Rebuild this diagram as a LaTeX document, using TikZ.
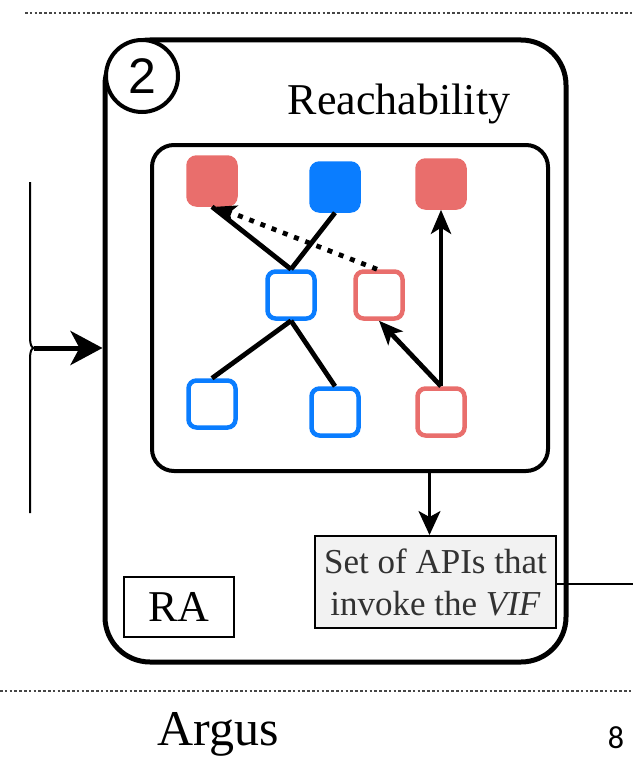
\documentclass[tikz,border=0pt]{standalone}
\usepackage{fontspec}
\setmainfont{Liberation Serif}
\newfontfamily\digitfont{Liberation Sans}
\newfontfamily\pagefont{Carlito}
\usetikzlibrary{arrows.meta}
\definecolor{nodered}{RGB}{233,110,108}
\definecolor{nodeblue}{RGB}{10,125,255}
\definecolor{boxgray}{RGB}{242,242,242}
\definecolor{textgray}{RGB}{50,50,50}
\definecolor{dotgray}{RGB}{70,70,70}

\begin{document}
\begin{tikzpicture}[x=1pt,y=-1pt,
  sq/.style={minimum size=47pt, rounded corners=8pt, inner sep=0pt, line width=4.5pt},
  redfill/.style={sq, fill=nodered, draw=nodered},
  bluefill/.style={sq, fill=nodeblue, draw=nodeblue},
  redline/.style={sq, draw=nodered, fill=white},
  blueline/.style={sq, draw=nodeblue, fill=white},
  edge/.style={line width=4.8pt, black},
  dirarrow/.style={edge, -{Stealth[length=24pt,width=20pt,inset=6pt]}},
  sepline/.style={dotgray, line width=2.8pt, dash pattern=on 2.6pt off 2.2pt},
  thinbox/.style={draw, line width=2pt, inner sep=0pt}
]
\useasboundingbox (0,0) rectangle (633,757);

% section separators
\coordinate (topL) at (25,13);
\coordinate (topR) at (633,13);
\coordinate (botL) at (0,691);
\coordinate (botR) at (633,691);
\draw[sepline] (topL) -- (topR);
\draw[sepline] (botL) -- (botR);

% outer module frame
\node[draw, line width=5pt, rounded corners=45pt, minimum width=461pt,
      minimum height=622pt, inner sep=0pt] (module) at (335.5,351) {};

% step number badge
\node[circle, draw, line width=4pt, fill=white, minimum size=72pt, inner sep=0pt]
  (badge) at (142,76) {\digitfont\fontsize{50}{50}\selectfont 2};

\node[anchor=base] (title) at (399,114) {\fontsize{44}{50}\selectfont Reachability};

% call graph panel
\node[draw, line width=4pt, rounded corners=22pt, minimum width=396pt,
      minimum height=326pt, inner sep=0pt] (panel) at (350,308) {};

\node[redfill]  (rtl)  at (212,181) {};
\node[bluefill] (btop) at (335,187) {};
\node[redfill]  (rtr)  at (441,184) {};
\node[blueline] (bmid) at (291,295) {};
\node[redline]  (rmid) at (379,295) {};
\node[blueline] (bbl)  at (212,404) {};
\node[blueline] (bbm)  at (335,412) {};
\node[redline]  (rbr)  at (441,412) {};

\draw[edge] (rtl.south) -- (bmid.north);
\draw[edge] (btop.south) -- (bmid.north);
\draw[edge] (bmid.south) -- (bbl.north);
\draw[edge] (bmid.south) -- (bbm.north);
\draw[edge, dash pattern=on 5pt off 7pt,
      -{Stealth[length=20pt,width=18pt,inset=5pt]}]
  ([xshift=-2pt]rmid.north) -- ([xshift=4pt]rtl.south);
\draw[dirarrow] (rbr.north) -- (rmid.south);
\draw[dirarrow] (rbr.north) -- (rtr.south);

% result of the analysis
\node[thinbox, fill=boxgray, minimum width=241pt, minimum height=92pt,
      align=center, text=textgray, font=\fontsize{35}{42}\selectfont]
  (apis) at (435.5,582) {Set of APIs that\\invoke the \textit{VIF}};
\draw[line width=2.5pt, -{Stealth[length=24pt,width=22pt,inset=6pt]}]
  ([xshift=-6pt]apis.north |- panel.south) -- ([xshift=-6pt]apis.north);
\coordinate (outR) at (633,584);
\draw[line width=2pt] (apis.east |- outR) -- (outR);

\node[thinbox, fill=white, minimum width=110pt, minimum height=60pt]
  (ra) at (179,607) {\fontsize{44}{50}\selectfont RA};

% incoming brace and arrow
\coordinate (braceTop) at (30,182);
\coordinate (braceTip) at (34,348);
\coordinate (braceBot) at (30,513);
\draw[line width=2pt] (braceTop) -- (30,338)
  .. controls (30,345) and (32,348) .. (braceTip)
  .. controls (32,348) and (30,351) .. (30,358) -- (braceBot);
\draw[line width=5pt, -{Stealth[length=32pt,width=34pt,inset=9pt]}]
  (braceTip) -- (module.west |- braceTip);

% footer
\node[anchor=base west, inner sep=0pt] (name) at (157,745)
  {\fontsize{50}{52}\selectfont Argus};
\node[anchor=base, inner sep=0pt] (page) at (616,748)
  {\pagefont\fontsize{32}{32}\selectfont 8};
\end{tikzpicture}
\end{document}
